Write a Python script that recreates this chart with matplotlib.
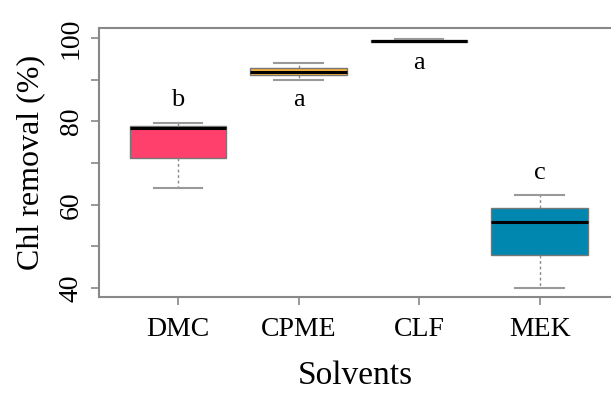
import matplotlib.pyplot as plt

solvents = ['DMC', 'CPME', 'CLF', 'MEK']
q1 = [71.2, 91.1, 99.1, 47.9]
med = [78.4, 91.8, 99.3, 55.8]
q3 = [78.9, 92.8, 99.4, 59.2]
whislo = [64.0, 89.9, 99.1, 40.0]
whishi = [79.6, 94.0, 99.8, 62.3]
letters = ['b', 'a', 'a', 'c']
letter_y = [85.1, 85.1, 94.0, 67.6]
colors = ['#FF3F6C', '#F7B23B', '#555555', '#0087B0']

plt.rcParams['font.family'] = ['Liberation Serif', 'DejaVu Serif']

fig = plt.figure(figsize=(6.11, 3.94), dpi=100)
ax = fig.add_axes([0.162, 0.246, 0.838, 0.683])

stats = []
for i, name in enumerate(solvents):
    stats.append(dict(label=name, q1=q1[i], med=med[i], q3=q3[i],
                      whislo=whislo[i], whishi=whishi[i], fliers=[]))

pos = [1, 2, 3, 4]
bp = ax.bxp(stats, positions=pos, widths=0.8, capwidths=0.4,
            patch_artist=True, showfliers=False,
            boxprops=dict(edgecolor='#777777', linewidth=1),
            whiskerprops=dict(color='#888888', linestyle=(0, (2, 2)), linewidth=1),
            capprops=dict(color='#999999', linewidth=1.5),
            medianprops=dict(color='black', linewidth=2.2))
for patch, c in zip(bp['boxes'], colors):
    patch.set_facecolor(c)

for x, t, y in zip(pos, letters, letter_y):
    ax.text(x, y, t, ha='center', va='center', fontsize=19)

ax.set_xlim(0.344, 4.593)
ax.set_ylim(37.84, 102.4)
ax.set_yticks([40, 50, 60, 70, 80, 90, 100])
ax.set_yticklabels(['40', '', '60', '', '80', '', '100'], rotation=90, va='center')
ax.set_xticks(pos)
ax.set_xticklabels(solvents)
ax.tick_params(labelsize=20, color='#888888', length=6, width=1.2, pad=5)
ax.tick_params(axis='x', pad=8)

for s in ['left', 'bottom', 'top']:
    ax.spines[s].set_color('#888888')
    ax.spines[s].set_linewidth(1.5)
ax.spines['right'].set_visible(False)

ax.set_ylabel('Chl removal (%)', fontsize=23, labelpad=10)
ax.set_xlabel('Solvents', fontsize=24, labelpad=14)

fig.savefig('out.png', dpi=100)
